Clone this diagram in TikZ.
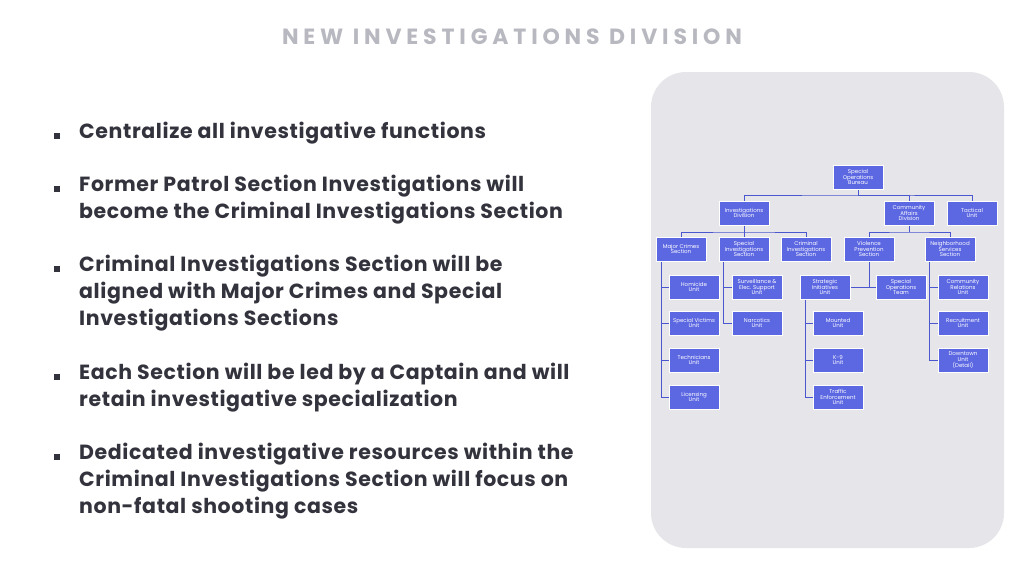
\documentclass[tikz,border=0pt]{standalone}
\usepackage{fontspec}
\setmainfont{Poppins}
\newfontfamily\pointfont[LetterSpace=3]{Poppins}
\newfontfamily\titlefont[LetterSpace=22]{Poppins}
\usetikzlibrary{positioning}
\definecolor{boxblue}{HTML}{5C67E2}
\definecolor{lineblue}{HTML}{4B57CF}
\definecolor{panel}{HTML}{E6E6EA}
\definecolor{titlegray}{HTML}{B8B8C0}
\definecolor{textdark}{HTML}{33333D}
\tikzset{unit/.style={rectangle,fill=boxblue,draw=white,line width=0.8pt,minimum width=50pt,minimum height=24pt,inner sep=0.5pt,align=center,text=white,font=\fontsize{5.5}{5.8}\selectfont},
         wire/.style={lineblue,line width=1pt},
         point/.style={textdark,font=\pointfont\fontsize{20.5}{27}\selectfont\bfseries,anchor=north west,align=left},
}
\begin{document}
\begin{tikzpicture}[x=1pt,y=-1pt]
\useasboundingbox (0,0) rectangle (1024,576);
\fill[white] (0,0) rectangle (1024,576);
\node[titlegray,font=\titlefont\fontsize{22}{22}\selectfont\bfseries] (title) at (512,37) {NEW INVESTIGATIONS DIVISION};
% bullets
\foreach \y/\txt in {122/{Centralize all investigative functions},
                     175/{Former Patrol Section Investigations will\\become the Criminal Investigations Section},
                     255/{Criminal Investigations Section will be\\aligned with Major Crimes and Special\\Investigations Sections},
                     363/{Each Section will be led by a Captain and will\\retain investigative specialization},
                     443/{Dedicated investigative resources within the\\Criminal Investigations Section will focus on\\non-fatal shooting cases}}{
  \fill[textdark] (54,\y+11) rectangle ++(6,6);
  \node[point,inner sep=0pt] at (79,\y) {\txt};
}
% panel
\fill[panel,rounded corners=35pt] (651,72) rectangle (1004,548);
% connectors
\coordinate (bus1) at (858,195);
\draw[wire] (858,177) -- (bus1);
\draw[wire] (744,213) |- (bus1) -| (972,213);
\draw[wire] (bus1) -| (909,213);
\draw[wire] (681,249) |- (744,232) -| (806,249);
\draw[wire] (744,213) -- (744,249);
\draw[wire] (869,249) |- (909,232) -| (950,249);
\draw[wire] (909,213) -- (909,232);
\draw[wire] (661,249) -- (661,397);
\foreach \y in {287,323,360,397} \draw[wire] (661,\y) -- (694,\y);
\draw[wire] (723,249) -- (723,323);
\foreach \y in {287,323} \draw[wire] (723,\y) -- (757,\y);
\draw[wire] (869,249) -- (869,287);
\draw[wire] (825,287) -- (901,287);
\draw[wire] (805,287) -- (805,397);
\foreach \y in {323,360,397} \draw[wire] (805,\y) -- (838,\y);
\draw[wire] (929,249) -- (929,360);
\foreach \y in {287,323,360} \draw[wire] (929,\y) -- (963,\y);
% chart
\node[unit] (sob) at (858,177) {Special\\Operations\\Bureau};
\node[unit] (invdiv) at (744,213) {Investigations\\Division};
\node[unit] (cad) at (909,213) {Community\\Affairs\\Division};
\node[unit] (tac) at (972,213) {Tactical\\Unit};
\node[unit] (major) at (681,249) {Major Crimes\\Section};
\node[unit] (specinv) at (744,249) {Special\\Investigations\\Section};
\node[unit] (crim) at (806,249) {Criminal\\Investigations\\Section};
\node[unit] (viol) at (869,249) {Violence\\Prevention\\Section};
\node[unit] (neigh) at (950,249) {Neighborhood\\Services\\Section};
\node[unit] (homi) at (694,287) {Homicide\\Unit};
\node[unit] (surv) at (757,287) {Surveillance \&\\Elec. Support\\Unit};
\node[unit] (strat) at (825,287) {Strategic\\Initiatives\\Unit};
\node[unit] (spops) at (901,287) {Special\\Operations\\Team};
\node[unit] (comrel) at (963,287) {Community\\Relations\\Unit};
\node[unit] (victims) at (694,323) {Special Victims\\Unit};
\node[unit] (narc) at (757,323) {Narcotics\\Unit};
\node[unit] (mount) at (838,323) {Mounted\\Unit};
\node[unit] (recr) at (963,323) {Recruitment\\Unit};
\node[unit] (tech) at (694,360) {Technicians\\Unit};
\node[unit] (k9) at (838,360) {K-9\\Unit};
\node[unit] (down) at (963,360) {Downtown\\Unit\\(Detail)};
\node[unit] (lic) at (694,397) {Licensing\\Unit};
\node[unit] (traf) at (838,397) {Traffic\\Enforcement\\Unit};
\end{tikzpicture}
\end{document}
